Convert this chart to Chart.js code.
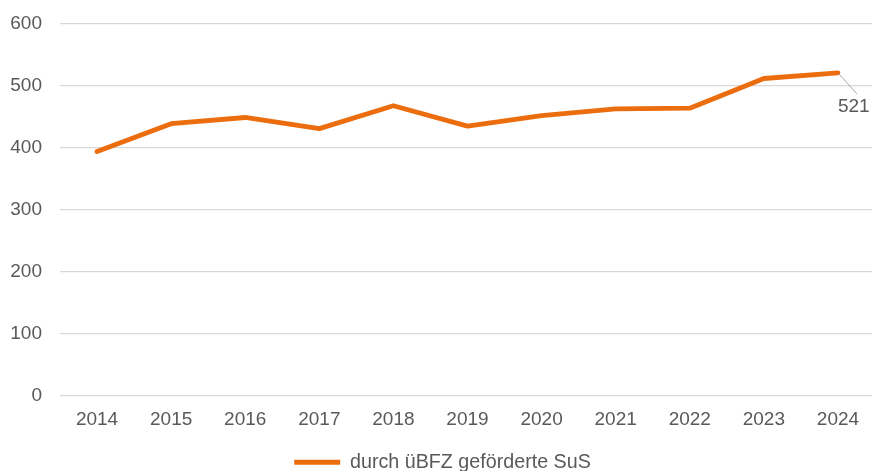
<!DOCTYPE html>
<html>
<head>
<meta charset="utf-8">
<script src="https://cdn.jsdelivr.net/npm/chart.js@4.4.1/dist/chart.umd.min.js"></script>
<style>
  html, body { margin: 0; padding: 0; background: #fff; overflow: hidden; }
  #wrap { width: 875px; height: 471px; }
</style>
</head>
<body>
<div id="wrap"><canvas id="lineChart" width="875" height="471"></canvas></div>
<script>
const years = ['2014', '2015', '2016', '2017', '2018', '2019', '2020', '2021', '2022', '2023', '2024'];
const supportedStudents = [394, 439, 449, 431, 468, 435, 452, 463, 464, 512, 521];
const seriesLabel = 'durch üBFZ geförderte SuS';
const yTicks = [0, 100, 200, 300, 400, 500, 600];

const lineColor = '#EB6D0E';
const textColor = '#595959';
const fontFamily = '"Liberation Sans", Arial, sans-serif';

// label with leader line for the last point only
const lastLabelPlugin = {
    id: 'lastLabel',
    afterDatasetsDraw(chart) {
        const meta = chart.getDatasetMeta(0);
        const idx = supportedStudents.length - 1;
        const pt = meta.data[idx];
        if (!pt) return;
        const ctx = chart.ctx;
        ctx.save();
        ctx.strokeStyle = '#A6A6A6';
        ctx.lineWidth = 1;
        ctx.beginPath();
        ctx.moveTo(pt.x + 1, pt.y + 1);
        ctx.lineTo(pt.x + 19, pt.y + 21);
        ctx.stroke();
        ctx.fillStyle = textColor;
        ctx.font = '19px ' + fontFamily;
        ctx.textAlign = 'left';
        ctx.textBaseline = 'middle';
        ctx.fillText(String(supportedStudents[idx]), pt.x, pt.y + 34);
        ctx.restore();
    }
};

new Chart(document.getElementById('lineChart'), {
    type: 'line',
    data: {
        labels: years,
        datasets: [{
            label: seriesLabel,
            data: supportedStudents,
            borderColor: lineColor,
            backgroundColor: lineColor,
            borderWidth: 4.8,
            pointRadius: 0,
            pointHoverRadius: 0,
            tension: 0,
            borderCapStyle: 'round',
            borderJoinStyle: 'round'
        }]
    },
    options: {
        responsive: false,
        animation: false,
        layout: { padding: { left: 10, top: 24, right: 0, bottom: -11 } },
        plugins: {
            tooltip: { enabled: false },
            legend: {
                position: 'bottom',
                labels: {
                    color: textColor,
                    font: { family: fontFamily, size: 19.7 },
                    boxWidth: 46,
                    boxHeight: 5,
                    padding: 16,
                    generateLabels(chart) {
                        const items = Chart.defaults.plugins.legend.labels.generateLabels(chart);
                        items.forEach(it => { it.lineWidth = 0; it.fillStyle = lineColor; it.strokeStyle = lineColor; });
                        return items;
                    }
                }
            }
        },
        scales: {
            x: {
                offset: true,
                grid: { display: false },
                border: { display: false },
                ticks: {
                    color: textColor,
                    font: { family: fontFamily, size: 19 },
                    padding: 5,
                    maxRotation: 0
                }
            },
            y: {
                min: 0,
                max: 600,
                afterBuildTicks(scale) {
                    scale.ticks = yTicks.map(v => ({ value: v }));
                },
                afterFit(scale) {
                    scale.width = 50;
                    scale.paddingTop = 0;
                    scale.paddingBottom = 0;
                },
                grid: { color: '#D9D9D9', lineWidth: 1.3, drawTicks: false },
                border: { display: false },
                ticks: {
                    color: textColor,
                    font: { family: fontFamily, size: 19 },
                    padding: 18
                }
            }
        }
    },
    plugins: [lastLabelPlugin]
});
</script>
</body>
</html>
